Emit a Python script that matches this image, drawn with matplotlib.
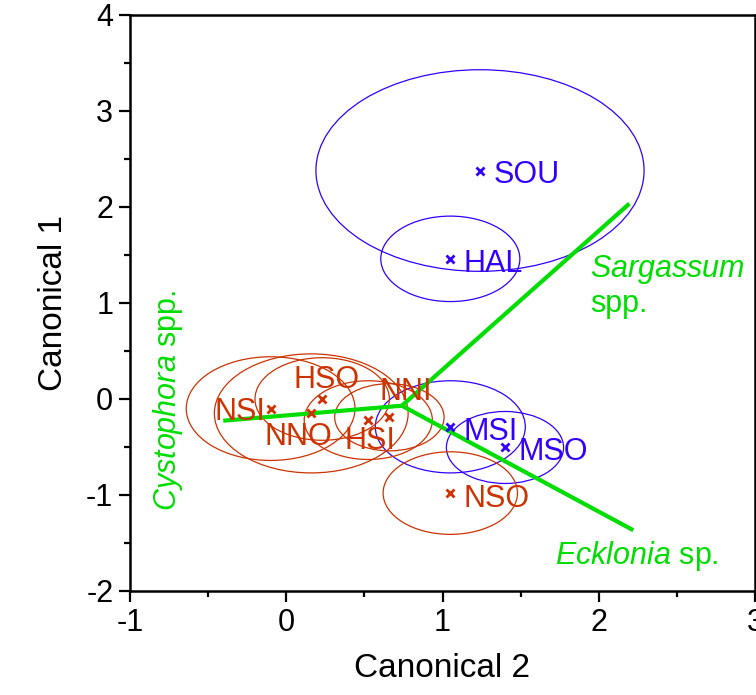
import matplotlib
matplotlib.use("Agg")
import matplotlib.pyplot as plt
from matplotlib.patches import Ellipse
from matplotlib.ticker import MultipleLocator

plt.rcParams['font.family'] = ['Liberation Sans', 'DejaVu Sans']
plt.rcParams['mathtext.fontset'] = 'custom'
plt.rcParams['mathtext.rm'] = 'Liberation Sans'
plt.rcParams['mathtext.it'] = 'Liberation Sans:italic'
plt.rcParams['axes.unicode_minus'] = False

# Group centroids on the canonical axes and 95% confidence radii
groups = ['SOU', 'HAL', 'MSI', 'MSO', 'NSO', 'NSI', 'HSO', 'NNO', 'HSI', 'NNI']
canonical2 = [1.24, 1.05, 1.05, 1.40, 1.05, -0.10, 0.23, 0.16, 0.525, 0.66]
canonical1 = [2.38, 1.46, -0.29, -0.505, -0.98, -0.10, 0.00, -0.15, -0.22, -0.19]
radius = [1.05, 0.445, 0.48, 0.375, 0.43, 0.54, 0.43, 0.62, 0.41, 0.35]
region = ['b', 'b', 'b', 'b', 'r', 'r', 'r', 'r', 'r', 'r']

# Biplot vectors for the algal taxa
vector_origin = (0.74, -0.07)
taxa = ['Sargassum', 'Ecklonia', 'Cystophora']
vector_c2 = [2.196, 2.221, -0.403]
vector_c1 = [2.035, -1.367, -0.226]

BLUE = '#3300ff'
RED = '#cc3300'
GREEN = '#00dd00'
colors = {'b': BLUE, 'r': RED}

# label placement (offset in points from centroid, horizontal alignment)
label_style = {
    'SOU': ((9.5, -9.0), 'left'),
    'HAL': ((9.5, -9.5), 'left'),
    'MSI': ((9.5, -9.7), 'left'),
    'MSO': ((9.5, -9.2), 'left'),
    'NSO': ((9.5, -9.9), 'left'),
    'NSI': ((-4.0, -8.5), 'right'),
    'HSO': ((3.5, 7.8), 'center'),
    'NNO': ((-9.0, -22.9), 'center'),
    'HSI': ((1.2, -21.0), 'center'),
    'NNI': ((11.5, 12.4), 'center'),
}

fig = plt.figure(figsize=(7.56, 6.95), dpi=100)
ax = fig.add_axes([130 / 756, 1 - 591 / 695, 625 / 756, 576 / 695])

for g, x, y, r, reg in zip(groups, canonical2, canonical1, radius, region):
    c = colors[reg]
    ax.add_patch(Ellipse((x, y), 2 * r, 2 * r, fill=False, edgecolor=c,
                         linewidth=0.9, zorder=2))

for x1, y1 in zip(vector_c2, vector_c1):
    ax.plot([vector_origin[0], x1], [vector_origin[1], y1], color=GREEN,
            linewidth=3.0, solid_capstyle='butt', zorder=3)

for g, x, y, reg in zip(groups, canonical2, canonical1, region):
    c = colors[reg]
    ax.plot(x, y, marker='x', color=c, markersize=5.5, markeredgewidth=2,
            zorder=4)
    off, ha = label_style[g]
    ax.annotate(g, (x, y), xytext=off, textcoords='offset points',
                ha=ha, va='baseline', color=c, fontsize=22, zorder=5)

# taxon labels next to their vectors
ax.annotate(r'$\it{Sargassum}$', (vector_c2[0], vector_c1[0]),
            xytext=(-28.3, -53.0), textcoords='offset points',
            ha='left', va='baseline', color=GREEN, fontsize=22)
ax.annotate('spp.', (vector_c2[0], vector_c1[0]),
            xytext=(-28.3, -78.0), textcoords='offset points',
            ha='left', va='baseline', color=GREEN, fontsize=22)
ax.annotate(r'$\it{Ecklonia}$ sp.', (vector_c2[1], vector_c1[1]),
            xytext=(-56.4, -24.3), textcoords='offset points',
            ha='left', va='baseline', color=GREEN, fontsize=22)
ax.annotate(r'$\it{Cystophora}$ spp.', (vector_c2[2], vector_c1[2]),
            xytext=(-39.8, 14.4), textcoords='offset points',
            ha='center', va='center', rotation=90, color=GREEN, fontsize=22)

ax.set_xlim(-1, 3)
ax.set_ylim(-2, 4)
ax.xaxis.set_major_locator(MultipleLocator(1))
ax.xaxis.set_minor_locator(MultipleLocator(0.5))
ax.yaxis.set_major_locator(MultipleLocator(1))
ax.yaxis.set_minor_locator(MultipleLocator(0.5))
ax.tick_params(which='major', length=8, width=1.6, labelsize=22, pad=4,
               direction='out')
ax.tick_params(which='minor', length=4.5, width=1.6, direction='out')
ax.tick_params(top=False, right=False, which='both')
for s in ax.spines.values():
    s.set_linewidth(1.8)

ax.set_xlabel('Canonical 2', fontsize=24, labelpad=11)
ax.set_ylabel('Canonical 1', fontsize=24, labelpad=12)

fig.savefig('out.png', dpi=100)
